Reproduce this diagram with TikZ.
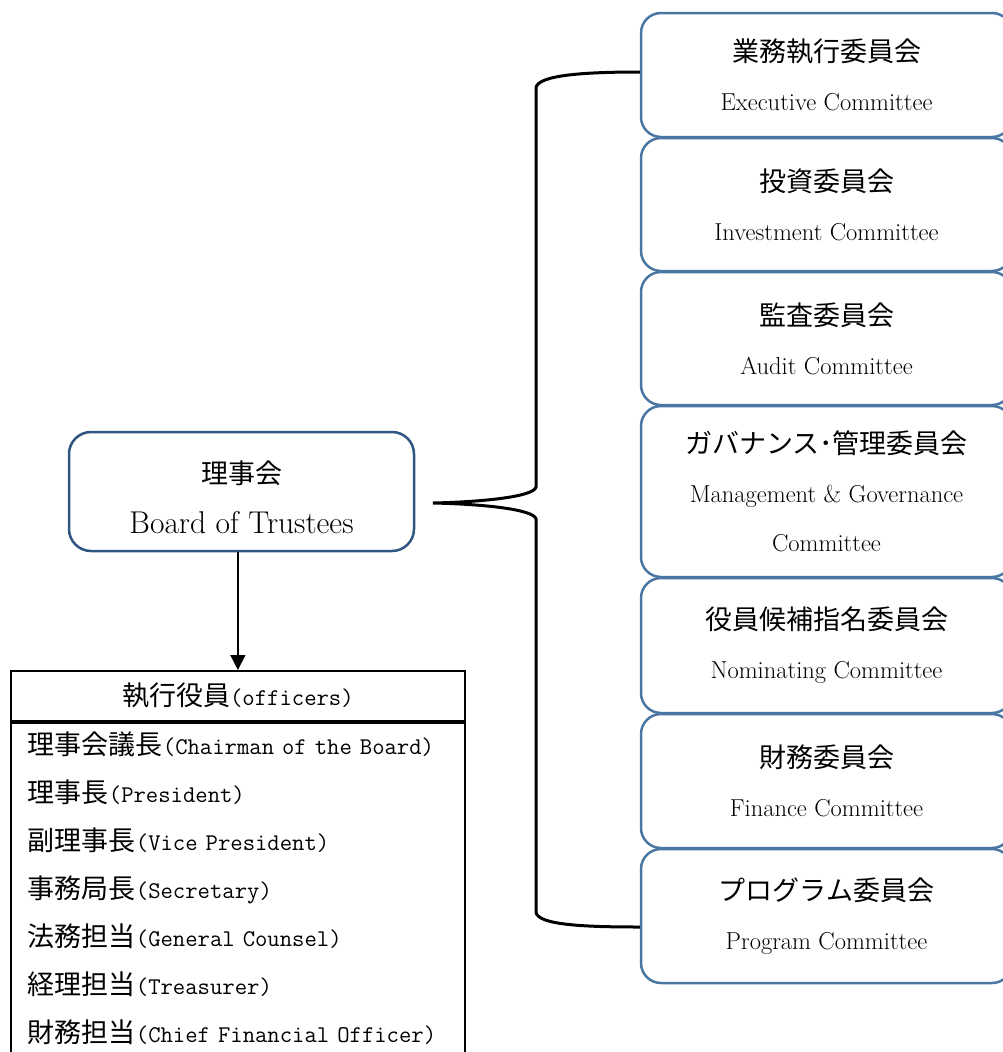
\documentclass[tikz,border=0pt]{standalone}
\usepackage{fontspec}
\newfontfamily\jpfont{Noto Sans CJK JP}
\usetikzlibrary{arrows.meta,calc}
\definecolor{cblue}{RGB}{74,118,163}
\definecolor{bblue}{RGB}{47,85,130}
\newcommand\jtxt[1]{{\jpfont\fontsize{27}{49}\selectfont #1}}
\newcommand\mtxt[1]{{\ttfamily\fontsize{24}{48}\selectfont #1}}
\tikzset{
  cbox/.style={draw=cblue, line width=2.5pt, rounded corners=20pt, minimum width=371pt,
    inner sep=0pt, align=center, font=\fontsize{24.5}{49}\selectfont},
  bbox/.style={draw=bblue, line width=2.5pt, rounded corners=22pt, minimum width=345pt,
    minimum height=119pt, inner sep=0pt, align=center, font=\fontsize{31.5}{50}\selectfont},
  obox/.style={draw=black, line width=1.8pt, minimum width=454pt, inner sep=0pt},
  brace/.style={draw=black, line width=3pt},
  conn/.style={draw=black, line width=1.5pt, -{Triangle[length=15pt,width=15pt]}}
}
\begin{document}
\begin{tikzpicture}[x=1pt,y=-1pt]
\useasboundingbox (0,0) rectangle (1003,1052);
\clip (0,0) rectangle (1003,1052);
% committees
\node[cbox, minimum height=124pt] (c1) at (826.5,75) {\jtxt{業務執行委員会}\\Executive Committee};
\node[cbox, minimum height=133pt] (c2) at (826.5,204.5) {\jtxt{投資委員会}\\Investment Committee};
\node[cbox, minimum height=133pt] (c3) at (826.5,338.5) {\jtxt{監査委員会}\\Audit Committee};
\node[cbox, minimum height=171pt] (c4) at (826.5,491.5) {\jtxt{ガバナンス･管理委員会}\\Management \& Governance\\Committee};
\node[cbox, minimum height=135pt] (c5) at (826.5,645.5) {\jtxt{役員候補指名委員会}\\Nominating Committee};
\node[cbox, minimum height=134pt] (c6) at (826.5,781) {\jtxt{財務委員会}\\Finance Committee};
\node[cbox, minimum height=134pt] (c7) at (826.5,916) {\jtxt{プログラム委員会}\\Program Committee};
% board
\node[bbox] (board) at (241.5,491.5) {\jtxt{\rule{0pt}{35pt}理事会}\\Board of Trustees};
% officers
\node[obox, minimum height=50pt, anchor=north west] (offh) at (10,670) {\jtxt{執行役員}\mtxt{(officers)}};
\node[obox, anchor=north west, text width=420pt, inner xsep=17pt, inner ysep=9pt, align=left,
  font=\fontsize{24}{48}\selectfont] (offl) at (offh.south west) {%
\jtxt{理事会議長}\mtxt{(Chairman of the Board)}\\
\jtxt{理事長}\mtxt{(President)}\\
\jtxt{副理事長}\mtxt{(Vice President)}\\
\jtxt{事務局長}\mtxt{(Secretary)}\\
\jtxt{法務担当}\mtxt{(General Counsel)}\\
\jtxt{経理担当}\mtxt{(Treasurer)}\\
\jtxt{財務担当}\mtxt{(Chief Financial Officer)}};
% arrow
\draw[conn] (board.south -| offh.north) -- (offh.north);
% brace
\coordinate (tip) at (433,503);
\draw[brace] ($(c1.west)+(0,-3)$) .. controls (585,72) and (537,75) .. (536,88)
  -- (536,487) .. controls (534,497) and (480,502) .. (tip)
  .. controls (480,504) and (534,509) .. (536,519)
  -- (536,912) .. controls (537,925) and (585,927) .. ($(c7.west)+(0,11)$);
\end{tikzpicture}
\end{document}
